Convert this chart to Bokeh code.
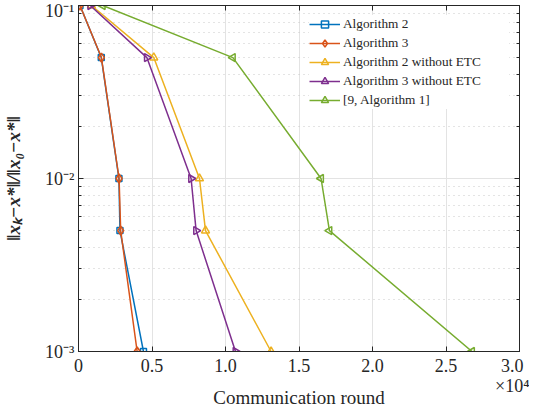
import math
from bokeh.plotting import figure
from bokeh.models import (FixedTicker, LogAxis, LinearAxis, CustomJSTickFormatter,
                          Legend, LegendItem)
from bokeh.embed import file_html
from bokeh.resources import INLINE

# ---------------- data ----------------
y_levels = [1e-1, 5e-2, 1e-2, 5e-3, 1e-3]
alg2_x = [100, 1550, 2750, 2820, 4420]
alg3_x = [100, 1560, 2760, 2870, 3990]
alg2_noetc_x = [880, 5120, 8230, 8640, 13100]
alg3_noetc_x = [800, 4650, 7660, 8000, 10680]
ref9_x = [1650, 10500, 16500, 17070, 26770]

series_names = ["Algorithm 2", "Algorithm 3", "Algorithm 2 without ETC",
                "Algorithm 3 without ETC", "[9, Algorithm 1]"]
series_x = [alg2_x, alg3_x, alg2_noetc_x, alg3_noetc_x, ref9_x]
colors = ["#0072BD", "#D95319", "#EDB120", "#7E2F8E", "#77AC30"]
markers = ["square", "diamond", "triangle", "triangle", "triangle"]
angles = [0, 0, 0, -math.pi / 2, math.pi / 2]
sizes = [6, 9, 8, 8, 8]

x_ticks = [0, 5000, 10000, 15000, 20000, 25000, 30000]
x_tick_labels = ["0", "0.5", "1.0", "1.5", "2.0", "2.5", "3.0\n\u00d710\u2074"]
y_ticks = [1e-3, 1e-2, 1e-1]
y_minor = [m * d for d in (1e-3, 1e-2) for m in range(2, 10)]

FONT = "Liberation Serif"
AX = "#262626"

p = figure(width=529, height=410, y_axis_type="log",
           x_range=(0, 30000), y_range=(1e-3, 1e-1),
           output_backend="svg", toolbar_location=None,
           min_border_left=71, min_border_right=10,
           min_border_top=5, min_border_bottom=58)

p.background_fill_color = "white"
p.border_fill_color = "white"
p.outline_line_color = AX
p.outline_line_width = 1

# grids
p.xgrid.grid_line_color = "#e3e3e3"
p.ygrid.grid_line_color = "#e3e3e3"
p.ygrid.minor_grid_line_color = "#c8c8c8"
p.ygrid.minor_grid_line_dash = "1 4"

# x axis
xa = p.xaxis[0]
xa.ticker = FixedTicker(ticks=x_ticks)
xa.major_label_overrides = {t: l for t, l in zip(x_ticks, x_tick_labels)}
xa.axis_label = "Communication round"

# y axis
ya = p.yaxis[0]
ya.ticker = FixedTicker(ticks=y_ticks, minor_ticks=y_minor)
ya.formatter = CustomJSTickFormatter(code="""
const sup = {'-':'\u207b','0':'\u2070','1':'\u00b9','2':'\u00b2','3':'\u00b3','4':'\u2074',
             '5':'\u2075','6':'\u2076','7':'\u2077','8':'\u2078','9':'\u2079'};
const e = String(Math.round(Math.log10(tick)));
let s = '';
for (const c of e) { s += sup[c]; }
return '10' + s;
""")
ya.axis_label = "\u2016x\u2096\u2212x*\u2016/\u2016x\u2080\u2212x*\u2016"

for ax in (xa, ya):
    ax.axis_line_color = AX
    ax.major_tick_line_color = AX
    ax.minor_tick_line_color = AX
    ax.major_tick_in = 5
    ax.major_tick_out = 0
    ax.minor_tick_in = 3
    ax.minor_tick_out = 0
    ax.major_label_text_font = FONT
    ax.major_label_text_font_size = "18px"
    ax.major_label_text_color = AX
    ax.axis_label_text_font = FONT
    ax.axis_label_text_font_size = "19px"
    ax.axis_label_text_color = AX

xa.minor_tick_line_color = None
xa.major_label_standoff = 4
xa.major_label_text_line_height = 1.0
xa.axis_label_standoff = -12
xa.axis_label_text_font_style = "normal"
ya.major_label_standoff = 4
ya.axis_label_standoff = 18
ya.axis_label_text_font_style = "bold italic"

# mirrored axes (box with inward ticks)
blank = CustomJSTickFormatter(code="return '';")
top = LinearAxis(ticker=FixedTicker(ticks=x_ticks), formatter=blank)
right = LogAxis(ticker=FixedTicker(ticks=y_ticks, minor_ticks=y_minor), formatter=blank)
for ax in (top, right):
    ax.axis_line_color = AX
    ax.major_tick_line_color = AX
    ax.minor_tick_line_color = AX
    ax.major_tick_in = 5
    ax.major_tick_out = 0
    ax.minor_tick_in = 3
    ax.minor_tick_out = 0
    ax.major_label_text_font_size = "0px"
    ax.major_label_standoff = 0
    ax.axis_label_standoff = 0
top.minor_tick_line_color = None
p.add_layout(top, "above")
p.add_layout(right, "right")

# series
items = []
for name, xs, c, m, a, s in zip(series_names, series_x, colors, markers, angles, sizes):
    ln = p.line(xs, y_levels, line_color=c, line_width=1.5)
    sc = p.scatter(xs, y_levels, marker=m, angle=a, size=s, line_color=c,
                   line_width=1.5, fill_color=None)
    items.append(LegendItem(label=name, renderers=[ln, sc]))

legend = Legend(items=items, location="top_right")
legend.margin = 10
legend.padding = 2
legend.spacing = 1
legend.glyph_width = 31
legend.glyph_height = 18
legend.label_height = 18
legend.label_standoff = 3
legend.label_width = 166
legend.label_text_font = FONT
legend.label_text_font_size = "13.3px"
legend.label_text_color = AX
legend.background_fill_color = "white"
legend.background_fill_alpha = 1
legend.border_line_color = None
p.add_layout(legend)

open("out.html", "w").write(file_html(p, INLINE))
